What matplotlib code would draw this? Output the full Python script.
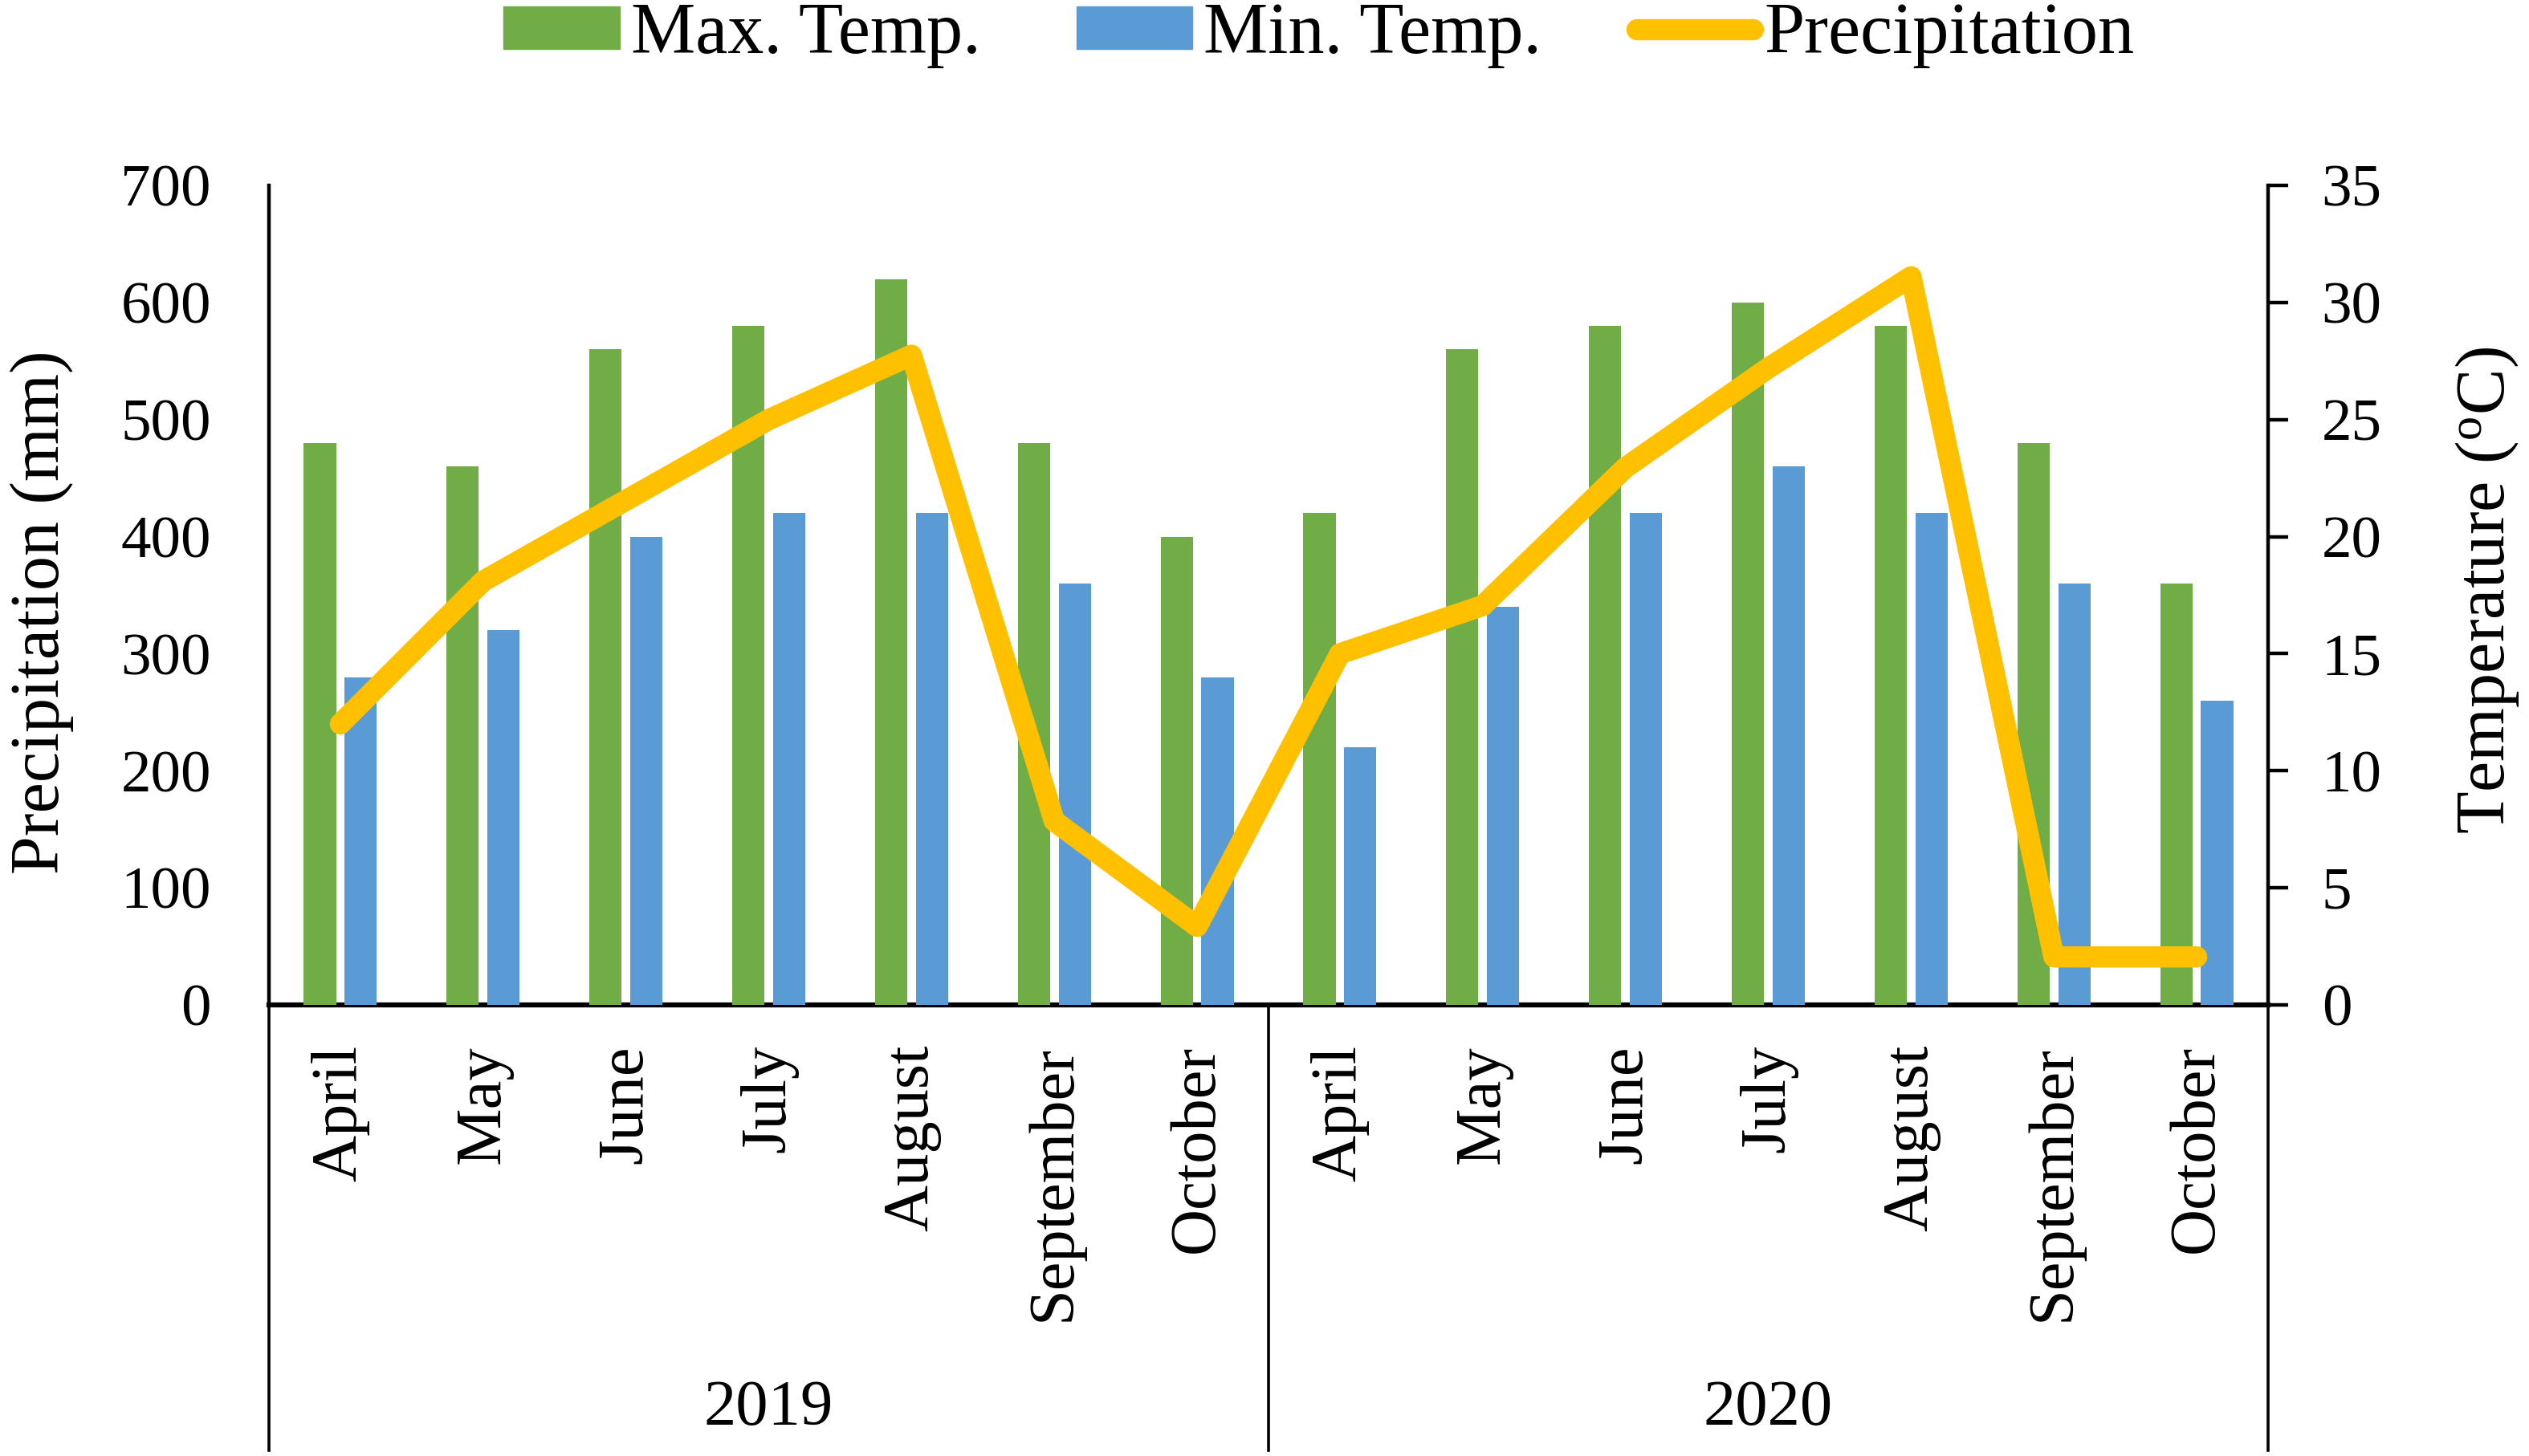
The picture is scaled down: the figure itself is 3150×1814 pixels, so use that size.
import matplotlib
matplotlib.use("Agg")
import matplotlib.pyplot as plt
import matplotlib.transforms as mtransforms
from matplotlib.patches import Patch
from matplotlib.lines import Line2D
import numpy as np

plt.rcParams['font.family'] = ['Liberation Serif', 'DejaVu Serif']

months = ["April", "May", "June", "July", "August", "September", "October"]
years = ["2019", "2020"]
categories = months + months
max_temp = [24, 23, 28, 29, 31, 24, 20, 21, 28, 29, 30, 29, 24, 18]
min_temp = [14, 16, 20, 21, 21, 18, 14, 11, 17, 21, 23, 21, 18, 13]
precip = [240, 362, 431, 500, 555, 157, 67, 300, 341, 459, 544, 622, 41, 41]
left_ticks = [0, 100, 200, 300, 400, 500, 600, 700]
right_ticks = [0, 5, 10, 15, 20, 25, 30, 35]

GREEN = "#70AD47"
BLUE = "#5B9BD5"
YELLOW = "#FFC000"

W, H = 3150, 1814
fig = plt.figure(figsize=(W / 100, H / 100), dpi=100)
left, right = 335 / W, 2825 / W
bottom, top = 1 - 1252 / H, 1 - 231 / H
ax = fig.add_axes([left, bottom, right - left, top - bottom])
ax2 = ax.twinx()

x = np.arange(len(categories))
off = 0.143
bw = 0.225
ax2.bar(x - off, max_temp, width=bw, color=GREEN, zorder=2)
ax2.bar(x + off, min_temp, width=bw, color=BLUE, zorder=2)
ax2.set_ylim(0, 35)
ax2.set_yticks(right_ticks)

# precipitation line on top, sharing the left-axis scale
ax3 = ax.twinx()
ax3.plot(x, precip, color=YELLOW, lw=19, solid_capstyle='round',
         solid_joinstyle='round', zorder=5)
ax3.set_ylim(0, 700)
ax3.set_yticks([])
for s in ax3.spines.values():
    s.set_visible(False)

ax.set_ylim(0, 700)
ax.set_yticks(left_ticks)
ax.set_xlim(-0.5, len(categories) - 0.5)
ax.set_xticks(x)
ax.set_xticklabels(categories, rotation=90, fontsize=58)
ax.tick_params(axis='x', length=0, pad=36)
ax.tick_params(axis='y', length=0, pad=52, labelsize=54)
ax2.tick_params(axis='y', length=18, width=3.2, pad=30, labelsize=54,
                direction='out')
ax2.set_xlim(ax.get_xlim())
ax3.set_xlim(ax.get_xlim())

for a in (ax, ax2, ax3):
    a.spines['top'].set_visible(False)
ax.spines['right'].set_visible(False)
ax.spines['left'].set_linewidth(3.2)
ax.spines['bottom'].set_linewidth(4.5)
ax2.spines['left'].set_visible(False)
ax2.spines['bottom'].set_visible(False)
ax2.spines['right'].set_linewidth(3.2)

# category group separators and year labels
trans = mtransforms.blended_transform_factory(ax.transData, ax.transAxes)
yb = (1252 - 1807) / (1252 - 231)
for xv in [-0.5, 6.5, len(categories) - 0.5]:
    ax.add_line(Line2D([xv, xv], [0, yb], transform=trans, color='black',
                       lw=2.6, clip_on=False))
transf = mtransforms.blended_transform_factory(ax.transData, fig.transFigure)
for i, yr in enumerate(years):
    ax.text(3 + 7 * i, 1 - 1756 / H, yr, transform=transf, ha='center',
            va='center', fontsize=58)

fig.text(52 / W, 1 - 763 / H, "Precipitation (mm)", rotation=90,
         ha='center', va='center', fontsize=62)
fig.text(3098 / W, 1 - 735 / H, "Temperature ($\\mathregular{^{o}}$C)",
         rotation=90, ha='center', va='center', fontsize=62)

handles = [Patch(color=GREEN, label="Max. Temp."),
           Patch(color=BLUE, label="Min. Temp."),
           Line2D([], [], color=YELLOW, lw=19, solid_capstyle='round',
                  label="Precipitation")]
fig.legend(handles=handles, loc='center', bbox_to_anchor=(1643 / W, 1 - 44 / H),
           ncol=3, frameon=False, fontsize=65, handlelength=1.6,
           handleheight=0.52, handletextpad=0.155, columnspacing=1.32,
           borderaxespad=0, borderpad=0)

fig.savefig("out.png", dpi=100)
